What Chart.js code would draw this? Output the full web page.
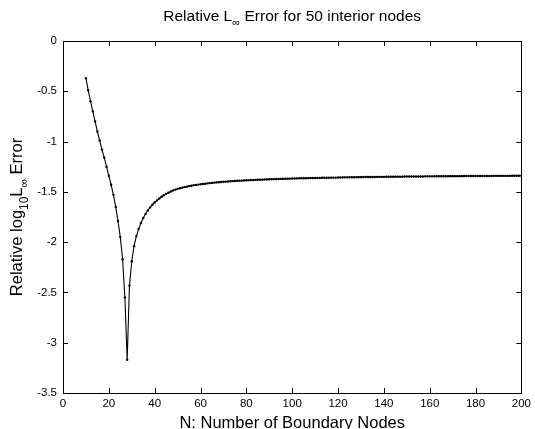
<!DOCTYPE html>
<html>
<head>
<meta charset="utf-8">
<script src="https://cdn.jsdelivr.net/npm/chart.js@4.4.1/dist/chart.umd.min.js"></script>
<style>
  html, body { margin: 0; padding: 0; background: #fff; }
  canvas { display: block; }
</style>
</head>
<body>
<canvas id="grafico" width="535" height="429"></canvas>
<script>
// N values: boundary nodes 10..200
const nodosN = [];
for (let n = 10; n <= 200; n++) nodosN.push(n);

// relative log10 L-inf error
const errorLog = [
  -0.37, -0.49, -0.60, -0.70, -0.80, -0.90, -0.99, -1.08, -1.16, -1.25,
  -1.34, -1.43, -1.53, -1.65, -1.79, -1.95, -2.17, -2.55, -3.17,
  -2.43, -2.19, -2.04, -1.94, -1.87, -1.81, -1.76, -1.72, -1.685, -1.655,
  -1.628, -1.605, -1.585, -1.566, -1.549, -1.534, -1.520, -1.508, -1.497, -1.487,
  -1.478, -1.470, -1.464, -1.458, -1.453, -1.448, -1.443, -1.439, -1.435, -1.431,
  -1.428, -1.425, -1.421, -1.419, -1.416, -1.413, -1.411, -1.408, -1.406, -1.404,
  -1.402, -1.400, -1.398, -1.397, -1.395, -1.393, -1.392, -1.390, -1.389, -1.388,
  -1.386, -1.385, -1.384, -1.383, -1.382, -1.381, -1.380, -1.379, -1.378, -1.377,
  -1.376, -1.375, -1.374, -1.373, -1.372, -1.372, -1.371, -1.370, -1.369, -1.369,
  -1.368, -1.367, -1.367, -1.366, -1.365, -1.365, -1.364, -1.364, -1.363, -1.363,
  -1.362, -1.362, -1.361, -1.361, -1.360, -1.360, -1.359, -1.359, -1.358, -1.358,
  -1.358, -1.357, -1.357, -1.356, -1.356, -1.356, -1.355, -1.355, -1.355, -1.354,
  -1.354, -1.354, -1.353, -1.353, -1.353, -1.352, -1.352, -1.352, -1.351, -1.351,
  -1.351, -1.351, -1.350, -1.350, -1.350, -1.350, -1.349, -1.349, -1.349, -1.349,
  -1.348, -1.348, -1.348, -1.348, -1.347, -1.347, -1.347, -1.347, -1.347, -1.346,
  -1.346, -1.346, -1.346, -1.346, -1.345, -1.345, -1.345, -1.345, -1.345, -1.345,
  -1.344, -1.344, -1.344, -1.344, -1.344, -1.344, -1.343, -1.343, -1.343, -1.343,
  -1.343, -1.343, -1.342, -1.342, -1.342, -1.342, -1.342, -1.342, -1.342, -1.341,
  -1.341, -1.341, -1.341, -1.341, -1.341, -1.341, -1.341, -1.340, -1.340, -1.340,
  -1.340, -1.340
];

const ticksX = [0, 20, 40, 60, 80, 100, 120, 140, 160, 180, 200];
const ticksY = [0, -0.5, -1, -1.5, -2, -2.5, -3, -3.5];

const fuente = '"Liberation Sans", Arial, Helvetica, sans-serif';

// text with subscripts: parts = [[text, isSub], ...]
function medirPartes(ctx, partes, tam) {
  let w = 0;
  partes.forEach(([t, sub]) => {
    ctx.font = (sub ? tam * 0.72 : tam) + 'px ' + fuente;
    w += ctx.measureText(t).width;
  });
  return w;
}
function dibujarPartes(ctx, partes, tam, x, y) {
  let cx = x;
  partes.forEach(([t, sub]) => {
    ctx.font = (sub ? tam * 0.72 : tam) + 'px ' + fuente;
    ctx.fillText(t, cx, sub ? y + tam * 0.35 : y);
    cx += ctx.measureText(t).width;
  });
}

const marcoMatlab = {
  id: 'marcoMatlab',
  afterDraw(chart) {
    const ctx = chart.ctx;
    const a = chart.chartArea;
    const sx = chart.scales.x, sy = chart.scales.y;
    ctx.save();
    ctx.strokeStyle = '#000';
    ctx.lineWidth = 1;
    ctx.strokeRect(Math.round(a.left) + 0.5, Math.round(a.top) + 0.5,
      Math.round(a.right - a.left), Math.round(a.bottom - a.top));
    // inward ticks on all four sides
    ctx.beginPath();
    ticksX.forEach(v => {
      const px = Math.round(sx.getPixelForValue(v)) + 0.5;
      ctx.moveTo(px, a.bottom); ctx.lineTo(px, a.bottom - 5);
      ctx.moveTo(px, a.top); ctx.lineTo(px, a.top + 5);
    });
    ticksY.forEach(v => {
      const py = Math.round(sy.getPixelForValue(v)) + 0.5;
      ctx.moveTo(a.left, py); ctx.lineTo(a.left + 5, py);
      ctx.moveTo(a.right, py); ctx.lineTo(a.right - 5, py);
    });
    ctx.stroke();

    ctx.fillStyle = '#000';
    ctx.textBaseline = 'alphabetic';
    ctx.textAlign = 'left';
    const centro = (a.left + a.right) / 2;

    const titulo = [['Relative L', false], ['\u221e', true], [' Error for 50 interior nodes', false]];
    const wt = medirPartes(ctx, titulo, 15.5);
    dibujarPartes(ctx, titulo, 15.5, centro - wt / 2, 21);

    const etqX = [['N: Number of Boundary Nodes', false]];
    const wx = medirPartes(ctx, etqX, 16.5);
    dibujarPartes(ctx, etqX, 16.5, centro - wx / 2, 428);

    const etqY = [['Relative log', false], ['10', true], ['L', false], ['\u221e', true], [' Error', false]];
    const wy = medirPartes(ctx, etqY, 16.5);
    ctx.translate(22, (a.top + a.bottom) / 2);
    ctx.rotate(-Math.PI / 2);
    dibujarPartes(ctx, etqY, 16.5, -wy / 2, 0);
    ctx.restore();
  }
};

new Chart(document.getElementById('grafico'), {
  type: 'line',
  data: {
    labels: nodosN,
    datasets: [{
      data: nodosN.map((n, i) => ({ x: n, y: errorLog[i] })),
      borderColor: '#000',
      backgroundColor: '#000',
      borderWidth: 1.1,
      pointRadius: 1.2,
      pointHoverRadius: 1.2,
      pointBorderWidth: 0,
      tension: 0
    }]
  },
  options: {
    responsive: false,
    animation: false,
    events: [],
    layout: { padding: { left: 0, top: 41, right: 10, bottom: 0 } },
    plugins: { legend: { display: false }, tooltip: { enabled: false } },
    scales: {
      x: {
        type: 'linear',
        min: 0,
        max: 200,
        afterBuildTicks: s => { s.ticks = ticksX.map(v => ({ value: v })); },
        afterFit: s => { s.height = 36; },
        grid: { display: false, drawTicks: false },
        border: { display: false },
        ticks: { color: '#000', padding: 4, maxRotation: 0, font: { family: fuente, size: 11.5 },
          callback: v => String(v) }
      },
      y: {
        type: 'linear',
        min: -3.5,
        max: 0,
        afterBuildTicks: s => { s.ticks = ticksY.map(v => ({ value: v })); },
        afterFit: s => { s.width = 63; },
        grid: { display: false, drawTicks: false },
        border: { display: false },
        ticks: { color: '#000', padding: 6, font: { family: fuente, size: 11.5 },
          callback: v => String(v) }
      }
    }
  },
  plugins: [marcoMatlab]
});
</script>
</body>
</html>
